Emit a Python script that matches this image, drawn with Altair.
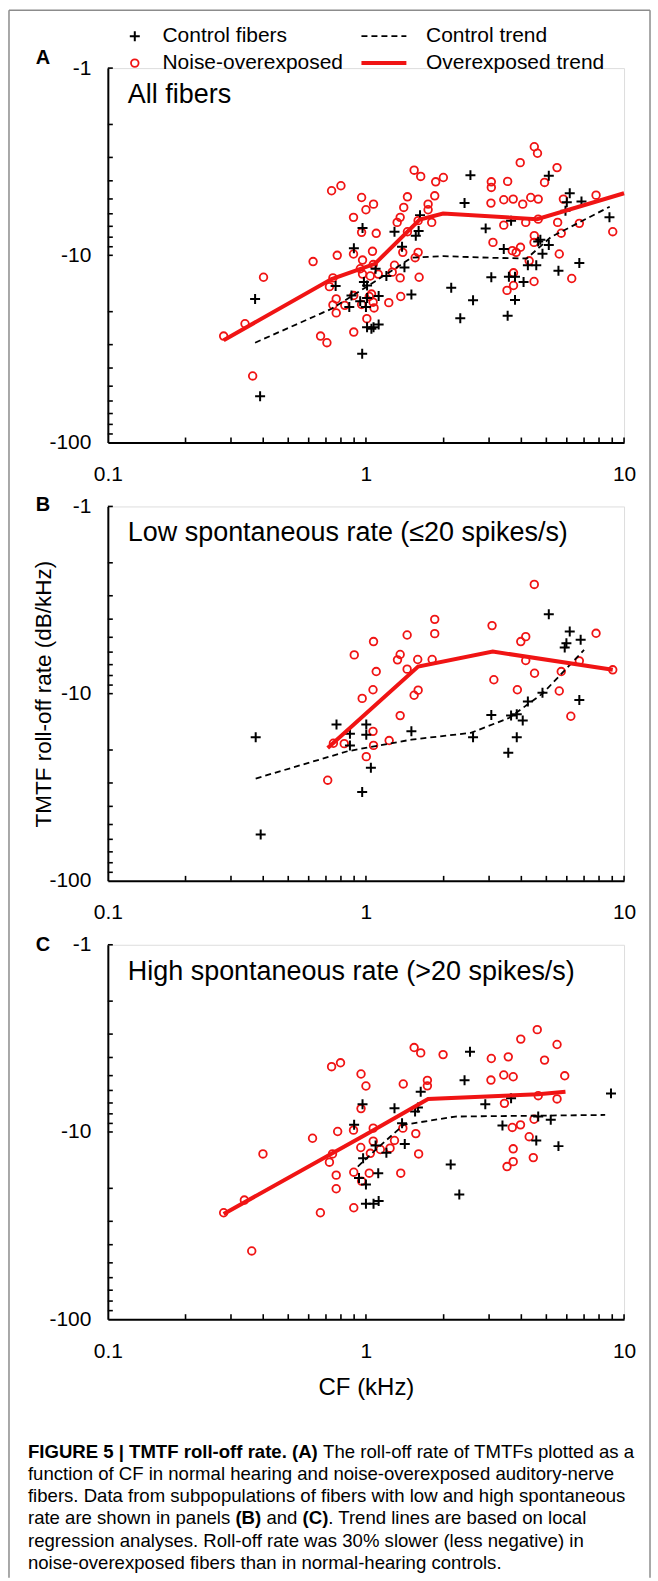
import altair as alt
import pandas as pd

FONT = "Liberation Sans, Arial, Helvetica, sans-serif"
RED = "#f01414"
PLUS = "M-1,0L1,0M0,-1L0,1"
W, H = 517, 375

# ---------------- Panel A : all fibers ----------------
A_CTRL_CF = [0.372, 0.389, 0.763, 0.97, 0.898, 0.879, 0.862, 0.95, 0.982, 1.01,
             1.01, 1.0, 1.12, 1.09, 1.20, 1.01, 1.05, 1.07, 1.12, 0.967,
             1.29, 1.38, 1.41, 1.50, 1.62, 1.60, 1.56, 2.14, 2.60, 2.32,
             2.41, 2.54, 2.91, 3.06, 5.11, 6.16, 6.84, 5.93, 6.0, 3.65,
             8.78, 4.65, 3.42, 4.74, 5.11, 4.83, 4.24, 4.57, 5.57, 6.71,
             3.58, 3.78, 4.08, 3.78, 3.54]
A_CTRL_RATE = [-17.1, -56.6, -14.6, -7.15, -9.18, -16.4, -18.9, -17.6, -13.9, -14.5,
               -16.9, -18.9, -16.5, -11.8, -12.9, -24.2, -24.7, -24.2, -23.4, -33.6,
               -7.48, -8.99, -11.6, -16.2, -6.10, -7.42, -7.85, -14.9, -17.4, -21.7,
               -5.26, -3.73, -7.18, -13.1, -3.76, -4.66, -5.16, -5.78, -5.2, -6.53,
               -6.27, -8.45, -9.26, -8.25, -8.81, -9.8, -11.3, -11.3, -12.1, -11.0,
               -13.0, -13.0, -13.9, -17.3, -21.0]
A_NOISE_CF = [0.281, 0.340, 0.401, 0.364, 0.624, 0.667, 0.706, 0.736, 0.80, 0.774,
              0.745, 0.722, 0.767, 0.745, 0.767, 0.828, 0.895, 0.962, 1.00, 1.07,
              0.962, 1.096, 0.895, 0.97, 1.06, 0.951, 0.97, 1.039, 1.116, 0.897,
              1.051, 1.066, 1.075, 1.008, 0.897, 1.226, 1.29, 1.357, 1.364, 1.264,
              1.389, 1.321, 1.357, 1.401, 1.448, 1.448, 1.537, 1.63, 1.593, 1.593,
              1.551, 1.607, 1.741, 1.741, 1.847, 1.863, 1.995, 1.798, 3.105, 3.06,
              3.06, 3.05, 3.54, 3.96, 4.49, 4.62, 5.50, 4.92, 3.42, 3.72,
              4.05, 4.35, 4.65, 5.82, 7.79, 3.42, 4.16, 4.65, 5.53, 6.71,
              9.04, 4.49, 3.69, 3.97, 3.82, 4.29, 4.48, 5.61, 6.27, 3.73,
              3.73, 3.52, 4.48, 5.71, 0.962, 1.067, 1.03]
A_NOISE_RATE = [-27.0, -23.2, -13.1, -44.1, -10.8, -27.0, -29.3, -4.52, -4.25, -10.0,
                -13.2, -14.7, -17.1, -18.4, -20.3, -18.5, -6.27, -4.91, -5.71, -5.33,
                -7.54, -7.63, -9.84, -10.6, -9.52, -11.8, -12.6, -12.9, -12.6, -16.4,
                -16.1, -17.8, -19.1, -21.8, -25.7, -17.9, -11.3, -13.2, -16.6, -12.3,
                -9.64, -6.67, -6.27, -5.55, -4.87, -7.48, -3.51, -3.79, -6.53, -9.64,
                -10.3, -13.1, -5.33, -5.71, -4.81, -4.05, -3.84, -6.67, -8.53, -4.05,
                -4.34, -5.26, -4.03, -3.20, -2.63, -2.85, -3.40, -4.08, -5.05, -5.01,
                -5.33, -4.91, -5.01, -5.01, -4.77, -6.90, -6.67, -6.41, -6.67, -6.75,
                -7.48, -7.85, -9.44, -9.06, -9.64, -10.7, -8.53, -9.84, -13.3, -12.4,
                -14.5, -15.4, -13.8, -7.62, -18.3, -11.2, -16.6]
A_CT_CF = [0.372, 0.736, 1.0, 1.2, 1.5, 2.0, 3.0, 4.2, 5.2, 8.8]
A_CT_RATE = [-29.3, -19.3, -14.8, -12.6, -10.3, -10.1, -10.3, -10.4, -8.0, -5.5]
A_OT_CF = [0.281, 0.736, 1.083, 1.616, 1.99, 4.6, 10.0]
A_OT_RATE = [-28.4, -13.4, -11.1, -6.45, -5.98, -6.41, -4.66]

# ---------------- Panel B : low spontaneous rate ----------------
B_CTRL_CF = [0.374, 0.769, 0.867, 0.867, 1.003, 1.003, 1.045, 0.967, 1.50, 2.60,
             3.06, 0.391, 3.56, 3.65, 3.84, 3.84, 4.05, 4.24, 4.83,
             5.11, 6.16, 6.79, 5.98, 5.89, 6.71]
B_CTRL_RATE = [-17.1, -14.6, -16.4, -18.9, -14.6, -16.6, -24.9, -33.5, -15.9, -17.1,
               -13.0, -56.5, -20.7, -13.1, -12.9, -17.1, -13.9, -11.0, -9.9,
               -3.77, -4.66, -5.16, -5.38, -5.67, -10.8]
B_NOISE_CF = [0.711, 0.748, 0.824, 1.003, 1.07, 1.065, 1.23, 1.357, 0.967, 1.065,
              1.096, 0.901, 1.07, 1.357, 1.325, 1.444, 1.444, 1.587, 1.805, 1.847,
              1.847, 1.537, 1.593, 3.08, 3.13, 4.49, 4.16, 3.98, 7.79,
              4.16, 4.50, 5.71, 6.71, 9.04, 3.86, 5.61, 6.22]
B_NOISE_RATE = [-29.0, -18.4, -18.5, -21.7, -18.9, -15.9, -17.8, -13.1, -10.6, -9.53,
                -7.62, -6.21, -5.27, -6.18, -6.60, -4.86, -7.40, -6.57, -6.57, -4.01,
                -4.78, -10.2, -9.58, -4.33, -8.43, -2.61, -4.96, -5.27, -4.76,
                -6.65, -7.78, -7.62, -6.68, -7.46, -9.53, -9.68, -13.2]
B_CT_CF = [0.374, 0.85, 1.5, 2.55, 3.58, 4.83, 7.0]
B_CT_RATE = [-28.4, -20.3, -17.6, -16.2, -13.5, -10.0, -5.84]
B_OT_CF = [0.711, 1.593, 3.1, 9.04]
B_OT_RATE = [-19.5, -7.16, -5.96, -7.46]

# ---------------- Panel C : high spontaneous rate ----------------
C_CTRL_CF = [0.90, 0.97, 1.09, 1.20, 0.975, 0.94, 1.00, 1.116, 1.00, 1.07,
             1.12, 1.29, 1.38, 1.414, 1.55, 1.59, 1.63, 2.13, 2.30, 2.41,
             2.53, 2.90, 3.38, 3.65, 4.65, 5.20, 4.57, 5.57, 8.90]
C_CTRL_RATE = [-9.16, -7.11, -11.8, -12.9, -13.8, -17.6, -19.1, -16.6, -24.2, -24.2,
               -23.4, -7.47, -8.98, -11.6, -7.78, -7.40, -6.09, -14.9, -21.6, -5.30,
               -3.73, -7.11, -9.23, -6.61, -8.27, -8.61, -11.1, -11.9, -6.22]
C_NOISE_CF = [0.281, 0.338, 0.399, 0.361, 0.621, 0.666, 0.736, 0.797, 0.777, 0.742,
              0.722, 0.767, 0.767, 0.897, 0.897, 0.895, 0.957, 0.957, 1.00, 1.067,
              1.067, 0.955, 1.04, 1.137, 1.03, 0.962, 1.24, 1.29, 1.364, 1.39,
              1.395, 1.56, 1.60, 1.537, 1.63, 1.73, 1.73, 1.99, 3.06, 3.05,
              3.56, 3.98, 4.61, 5.50, 4.92, 3.42, 3.72, 5.89, 3.44, 4.65,
              5.50, 3.69, 3.97, 4.29, 4.48, 3.72, 3.72, 3.52, 4.45]
C_NOISE_RATE = [-27.0, -23.1, -13.1, -43.2, -10.8, -27.0, -4.48, -4.27, -9.94, -13.1,
                -14.5, -17.0, -20.1, -25.4, -16.4, -9.78, -7.50, -4.90, -5.68, -9.54,
                -11.2, -12.1, -13.0, -12.4, -16.6, -18.3, -12.2, -11.1, -16.6, -9.54,
                -5.54, -10.2, -13.1, -3.54, -3.78, -5.30, -5.67, -3.86, -4.05, -5.28,
                -3.97, -3.19, -2.84, -3.41, -4.13, -4.96, -5.07, -5.01, -7.03, -6.40,
                -6.66, -9.46, -9.16, -10.6, -8.55, -12.3, -14.4, -15.3, -13.7]
C_CT_CF = [0.93, 1.13, 1.4, 2.22, 8.45]
C_CT_RATE = [-15.3, -11.9, -9.16, -8.27, -8.11]
C_OT_CF = [0.281, 1.0, 1.741, 4.65, 5.93]
C_OT_RATE = [-27.4, -10.3, -6.66, -6.29, -6.09]

# axis ticks / labels
X_LABELS = [0.1, 1, 10]
Y_LABELS = [1, 10, 100]
X_TICKS = [0.2, 0.3, 0.4, 0.5, 0.6, 0.7, 0.8, 0.9, 1, 2, 3, 4, 5, 6, 7, 8, 9, 10]
Y_TICKS = [1, 2, 3, 4, 5, 6, 7, 8, 9, 10, 20, 30, 40, 50, 60, 70, 80, 90]

CAPTION = [
    [("FIGURE 5 | TMTF roll-off rate. (A)", "bold", 0), ("The roll-off rate of TMTFs plotted as a", "normal", 295.6)],
    [("function of CF in normal hearing and noise-overexposed auditory-nerve", "normal", 0)],
    [("fibers. Data from subpopulations of fibers with low and high spontaneous", "normal", 0)],
    [("rate are shown in panels", "normal", 0), ("(B)", "bold", 207.8), ("and", "normal", 238.8),
     ("(C)", "bold", 275.0), (". Trend lines are based on local", "normal", 300.8)],
    [("regression analyses. Roll-off rate was 30% slower (less negative) in", "normal", 0)],
    [("noise-overexposed fibers than in normal-hearing controls.", "normal", 0)],
]

for a, b in [(A_CTRL_CF, A_CTRL_RATE), (A_NOISE_CF, A_NOISE_RATE), (B_CTRL_CF, B_CTRL_RATE),
             (B_NOISE_CF, B_NOISE_RATE), (C_CTRL_CF, C_CTRL_RATE), (C_NOISE_CF, C_NOISE_RATE)]:
    assert len(a) == len(b)

xscale = alt.Scale(type="log", domain=[0.1, 10], nice=False)
yscale = alt.Scale(type="log", domain=[1, 100], nice=False, reverse=True)

ONE = pd.DataFrame({"k": [0]})


def x_axis(with_title):
    kw = dict(values=X_LABELS, format="~g", ticks=False, grid=False, domainColor="black",
              domainWidth=2, labelFont=FONT, labelFontSize=21, labelColor="black",
              labelPadding=21, labelFlush=False, labelOverlap=False, labelBound=False)
    if with_title:
        kw.update(title="CF (kHz)", titleFont=FONT, titleFontSize=24, titleFontWeight="normal",
                  titleColor="black", titleX=W / 2, titleY=68, titleBaseline="middle",
                  titleAlign="center")
    else:
        kw.update(title="")
    return alt.Axis(**kw)


def y_axis(with_title):
    kw = dict(values=Y_LABELS, labelExpr="'-' + datum.value", ticks=False, grid=False,
              domainColor="black", domainWidth=2, labelFont=FONT, labelFontSize=21,
              labelColor="black", labelPadding=17, labelFlush=False, labelOverlap=False,
              labelBound=False)
    if with_title:
        kw.update(title="TMTF roll-off rate (dB/kHz)", titleFont=FONT, titleFontSize=22.5,
                  titleFontWeight="normal", titleColor="black", titleX=-64, titleY=H / 2,
                  titleAngle=270, titleBaseline="middle", titleAlign="center")
    else:
        kw.update(title="")
    return alt.Axis(**kw)


def text(s, x, y, size, weight="normal", align="left"):
    return alt.Chart(ONE).mark_text(text=s, font=FONT, fontSize=size, fontWeight=weight,
                                    align=align, baseline="middle", color="black").encode(
        x=alt.value(x), y=alt.value(y))


def data(cf, rate):
    return alt.Chart(pd.DataFrame({"cf": cf, "rate": rate})).transform_calculate(mag="-datum.rate")


def panel(letter, letter_y, title, ctrl, noise, ct, ot, y_title=False, x_title=False, extra=()):
    X = alt.X("cf:Q", scale=xscale, axis=x_axis(x_title))
    Y = alt.Y("mag:Q", scale=yscale, axis=y_axis(y_title))
    layers = [
        alt.Chart(pd.DataFrame({"cf": X_TICKS})).mark_rule(color="black", strokeWidth=1.6).encode(
            x=X, y=alt.value(H), y2=alt.value(H - 5)),
        alt.Chart(pd.DataFrame({"mag": Y_TICKS})).mark_rule(color="black", strokeWidth=1.6).encode(
            y=Y, x=alt.value(0), x2=alt.value(5)),
        data(*noise).mark_point(shape="circle", size=58, strokeWidth=1.8, color=RED, opacity=1,
                                filled=False).encode(x=X, y=Y),
        data(*ctrl).mark_point(shape=PLUS, size=100, strokeWidth=2, color="black", opacity=1,
                               filled=False).encode(x=X, y=Y),
        data(*ct).mark_line(color="black", strokeWidth=1.8, strokeDash=[6, 4]).encode(x=X, y=Y),
        data(*ot).mark_line(color=RED, strokeWidth=4).encode(x=X, y=Y),
        text(title, 20, 27, 27),
        text(letter, -65, letter_y, 20, "bold", "center"),
    ]
    layers += list(extra)
    return alt.layer(*layers).properties(width=W, height=H)


GRAY = "#8c8c8c"
legend_and_frame = [
    alt.Chart(ONE).mark_rule(color=GRAY, strokeWidth=1.5).encode(
        x=alt.value(-99), y=alt.value(-58), y2=alt.value(1512)),
    alt.Chart(ONE).mark_rule(color=GRAY, strokeWidth=1.5).encode(
        x=alt.value(543), y=alt.value(-58), y2=alt.value(1512)),
    alt.Chart(ONE).mark_rule(color=GRAY, strokeWidth=1.5).encode(
        x=alt.value(-99), x2=alt.value(543), y=alt.value(-58)),
    alt.Chart(ONE).mark_point(shape=PLUS, size=100, strokeWidth=2, color="black", opacity=1,
                              filled=False).encode(x=alt.value(27), y=alt.value(-32)),
    alt.Chart(ONE).mark_point(shape="circle", size=58, strokeWidth=1.8, color=RED, opacity=1,
                              filled=False).encode(x=alt.value(27), y=alt.value(-5)),
    alt.Chart(ONE).mark_rule(color="black", strokeWidth=1.8, strokeDash=[6, 4]).encode(
        x=alt.value(254), x2=alt.value(299), y=alt.value(-32)),
    alt.Chart(ONE).mark_rule(color=RED, strokeWidth=4).encode(
        x=alt.value(254), x2=alt.value(299), y=alt.value(-5)),
    text("Control fibers", 54.7, -32, 21),
    text("Noise-overexposed", 54.7, -5, 21),
    text("Control trend", 318.7, -32, 21),
    text("Overexposed trend", 318.7, -5, 21),
]

caption_layers = []
for i, line in enumerate(CAPTION):
    for s, wt, dx in line:
        caption_layers.append(text(s, -80 + dx, 508 + i * 22.2, 18.6, wt))

pa = panel("A", -10, "All fibers", (A_CTRL_CF, A_CTRL_RATE), (A_NOISE_CF, A_NOISE_RATE),
           (A_CT_CF, A_CT_RATE), (A_OT_CF, A_OT_RATE), extra=legend_and_frame)
pb = panel("B", -1, "Low spontaneous rate (\u226420 spikes/s)", (B_CTRL_CF, B_CTRL_RATE),
           (B_NOISE_CF, B_NOISE_RATE), (B_CT_CF, B_CT_RATE), (B_OT_CF, B_OT_RATE), y_title=True)
pc = panel("C", 0, "High spontaneous rate (>20 spikes/s)", (C_CTRL_CF, C_CTRL_RATE),
           (C_NOISE_CF, C_NOISE_RATE), (C_CT_CF, C_CT_RATE), (C_OT_CF, C_OT_RATE),
           x_title=True, extra=caption_layers)

chart = alt.vconcat(pa, pb, pc, spacing=64, bounds="flush",
                    padding={"left": 7, "top": 7, "right": 6, "bottom": 2}).configure_view(
    strokeWidth=0).configure(background="white", font=FONT)

chart.save("out.html", embed_options={"renderer": "svg", "actions": False})
